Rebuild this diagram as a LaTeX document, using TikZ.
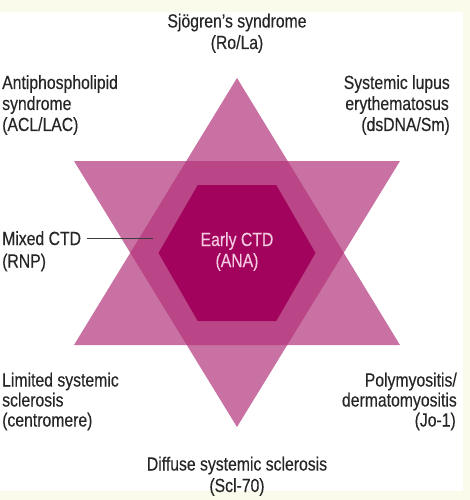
\documentclass[tikz,border=0pt]{standalone}
\usepackage{fontspec}
\newfontfamily\lblfont[FakeStretch=0.83,FakeBold=0.3]{Liberation Sans}
\definecolor{cream}{HTML}{FBFBEC}
\definecolor{trifill}{HTML}{C971A3}
\definecolor{overfill}{HTML}{BB4687}
\definecolor{hexfill}{HTML}{A2035D}
\definecolor{labelgray}{HTML}{262626}
\definecolor{hextext}{HTML}{F4CBE0}
\begin{document}
\begin{tikzpicture}[x=1pt,y=-1pt,
  lbl/.style={font=\lblfont\fontsize{19}{22}\selectfont, text=labelgray, inner sep=0pt, anchor=base},
  lblw/.style={lbl, anchor=base west},
  lble/.style={lbl, anchor=base east},
  hexlbl/.style={lbl, text=hextext},
  linkline/.style={draw=labelgray!90, line width=0.9pt, shorten <=6pt}]
\useasboundingbox (0,0) rectangle (470,500);
\fill[cream] (0,0) rectangle (470,500);
\fill[white] (0,12) rectangle (463,491);
% star
\coordinate (ua) at (237,78);
\coordinate (ul) at (74,345);
\coordinate (ur) at (400,345);
\coordinate (dl) at (74,161);
\coordinate (dr) at (400,161);
\coordinate (da) at (237,427);
\fill[trifill] (ua) -- (ul) -- (ur) -- cycle;
\fill[trifill] (dl) -- (dr) -- (da) -- cycle;
\begin{scope}
  \clip (ua) -- (ul) -- (ur) -- cycle;
  \fill[overfill] (dl) -- (dr) -- (da) -- cycle;
\end{scope}
% inner hexagon
\fill[hexfill] (158.5,253) -- (197.75,185) -- (276.25,185) -- (315.5,253)
  -- (276.25,321) -- (197.75,321) -- cycle;
% labels
\node[lbl] (sjo1) at (237,27.5) {Sjögren’s syndrome};
\node[lbl] (sjo2) at (237,49) {(Ro/La)};
\node[lblw] (aps1) at (2,89) {Antiphospholipid};
\node[lblw] (aps2) at (2,110) {syndrome};
\node[lblw] (aps3) at (2,131) {(ACL/LAC)};
\node[lble] (sle1) at (450,89) {Systemic lupus};
\node[lble] (sle2) at (449,110) {erythematosus};
\node[lble] (sle3) at (450,131) {(dsDNA/Sm)};
\node[lblw] (mixed) at (2,245) {Mixed CTD};
\node[lblw] (rnp) at (2,267.5) {(RNP)};
\node[hexlbl] (early1) at (237,246) {Early CTD};
\node[hexlbl] (early2) at (237,267) {(ANA)};
\node[lblw] (lim1) at (2,386.5) {Limited systemic};
\node[lblw] (lim2) at (2,406.5) {sclerosis};
\node[lblw] (lim3) at (2,426.5) {(centromere)};
\node[lble] (pm1) at (457,386.5) {Polymyositis/};
\node[lble] (pm2) at (457,406.5) {dermatomyositis};
\node[lble] (pm3) at (456,426.5) {(Jo-1)};
\node[lbl] (dif1) at (237,470.5) {Diffuse systemic sclerosis};
\node[lbl] (dif2) at (237,492) {(Scl-70)};
% connector
\coordinate (mixedend) at (153,238);
\draw[linkline] (mixed.east) -- (mixedend |- mixed.east);
\end{tikzpicture}
\end{document}
